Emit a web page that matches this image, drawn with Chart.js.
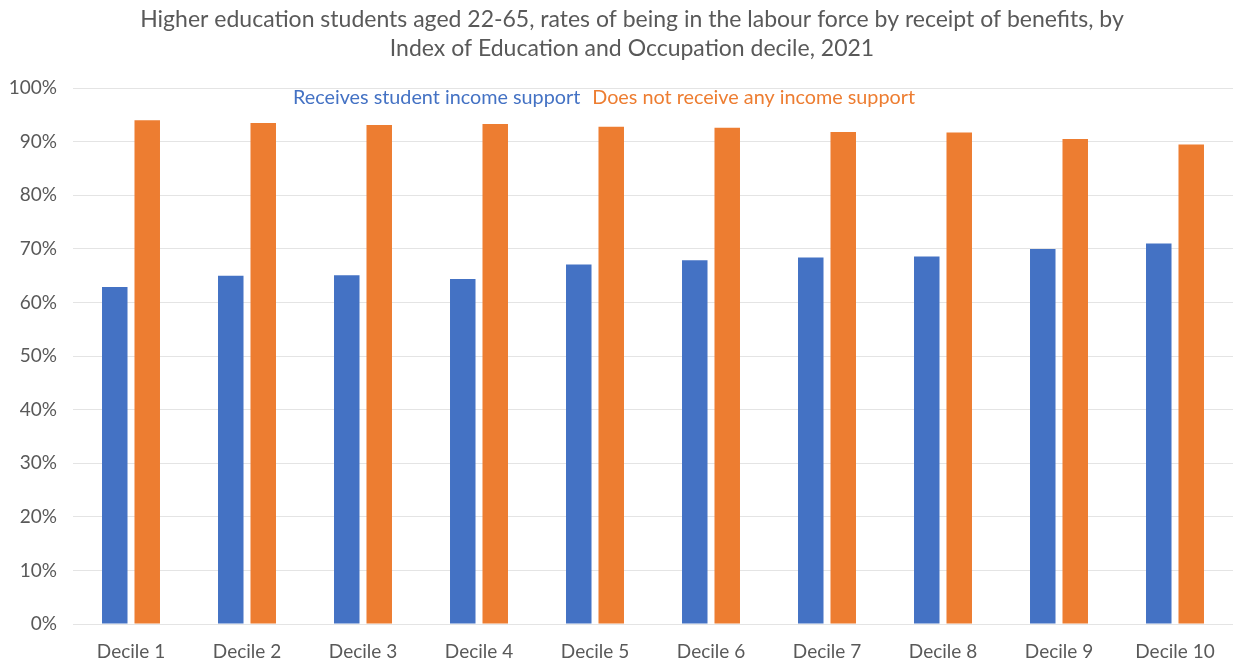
<!DOCTYPE html>
<html>
<head>
<meta charset="utf-8">
<script src="https://cdn.jsdelivr.net/npm/chart.js@4"></script>
<style>
  body { margin: 0; background: #fff; }
  #wrap { width: 1233px; height: 661px; }
</style>
</head>
<body>
<div id="wrap"><canvas id="labourChart"></canvas></div>
<script>
  // Deciles on the x axis
  const deciles = ['Decile 1', 'Decile 2', 'Decile 3', 'Decile 4', 'Decile 5',
    'Decile 6', 'Decile 7', 'Decile 8', 'Decile 9', 'Decile 10'];

  // Labour force rates (%) by benefit status
  const studentSupport = [62.9, 65.0, 65.1, 64.4, 67.1, 67.9, 68.4, 68.6, 70.0, 71.0];
  const noSupport = [94.0, 93.5, 93.1, 93.3, 92.8, 92.6, 91.8, 91.7, 90.5, 89.5];

  const seriesNames = ['Receives student income support', 'Does not receive any income support'];
  const seriesColors = ['#4472C4', '#ED7D31'];

  const FONT = 'Lato, Calibri, sans-serif';
  const GREY = '#595959';

  // Plain coloured text legend inside the top of the plot area
  const textLegend = {
    id: 'textLegend',
    afterLayout(chart) {
      // let the y labels run into the left padding without being clipped
      chart.scales.y.left = 0;
    },
    afterDraw(chart) {
      const ctx = chart.ctx;
      const area = chart.chartArea;
      ctx.save();
      ctx.font = '19.8px ' + FONT;
      ctx.textBaseline = 'middle';
      let x = 293;
      const y = area.top + 10;
      chart.data.datasets.forEach(function (ds) {
        ctx.fillStyle = ds.backgroundColor;
        ctx.fillText(ds.label, x, y);
        x += ctx.measureText(ds.label).width + 12;
      });
      ctx.restore();
    }
  };

  function createBarChart(canvasId) {
    const canvas = document.getElementById(canvasId);

    new Chart(canvas, {
      type: 'bar',
      data: {
        labels: deciles,
        datasets: [
          {
            label: seriesNames[0],
            data: studentSupport,
            backgroundColor: seriesColors[0],
            borderWidth: 0
          },
          {
            label: seriesNames[1],
            data: noSupport,
            backgroundColor: seriesColors[1],
            borderWidth: 0
          }
        ]
      },
      options: {
        responsive: true,
        maintainAspectRatio: false,
        animation: false,
        // left padding keeps the title centred a little right of the canvas middle
        layout: { padding: { left: 31, right: 0, top: 0, bottom: -10 } },
        datasets: {
          bar: { categoryPercentage: 0.56, barPercentage: 0.785 }
        },
        plugins: {
          legend: { display: false },
          tooltip: { enabled: false },
          title: {
            display: true,
            text: [
              'Higher education students aged 22-65, rates of being in the labour force by receipt of benefits, by',
              'Index of Education and Occupation decile, 2021'
            ],
            color: GREY,
            font: { family: FONT, size: 23, weight: 'normal', lineHeight: 1.25 },
            padding: { top: 5.6, bottom: 25 }
          }
        },
        scales: {
          x: {
            grid: { display: false },
            border: { display: false },
            ticks: {
              color: GREY,
              padding: 9,
              font: { family: FONT, size: 19, lineHeight: 1.1 }
            }
          },
          y: {
            min: 0,
            max: 100,
            afterFit: function (scale) { scale.width = 42; },
            ticks: {
              stepSize: 10,
              color: GREY,
              padding: 16,
              font: { family: FONT, size: 19 },
              callback: function (v) { return v + '%'; }
            },
            grid: { color: '#E4E4E4', drawTicks: false, lineWidth: 1 },
            border: { display: false }
          }
        }
      },
      plugins: [textLegend]
    });
  }

  createBarChart('labourChart');
</script>
</body>
</html>
